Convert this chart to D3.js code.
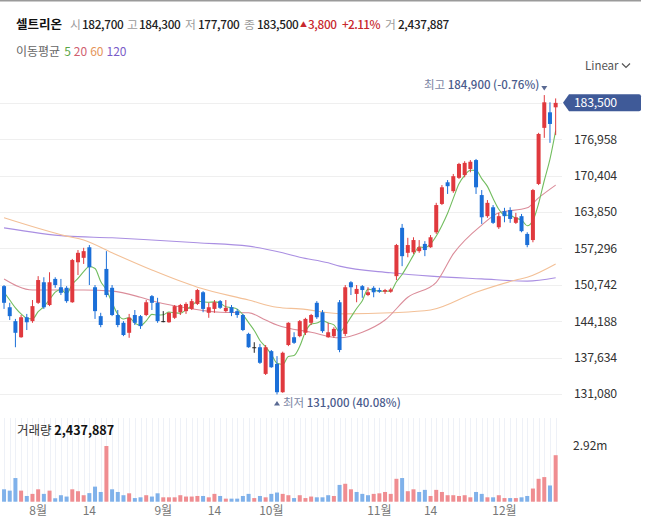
<!DOCTYPE html>
<html>
<head>
<meta charset="utf-8">
<script src="https://cdn.jsdelivr.net/npm/d3@7"></script>
<style>
  body { margin: 0; background: #fff; }
  text { font-family: "Noto Sans CJK KR", "Noto Sans", sans-serif; }
</style>
</head>
<body>
<svg id="chart" width="658" height="528"></svg>
<script>
// daily candles, 2023-07-24 .. 2023-12-14
const opens = [150500,146700,144200,141300,144900,144200,147500,151200,147100,151800,
  150300,150200,147600,154800,155600,157500,150300,145100,153600,150200,
  145300,143900,142100,145300,145100,145300,148700,147500,144200,144000,
  144800,145800,146000,146400,147300,149400,145700,146400,147800,146000,
  146700,146000,145300,141900,139500,139500,134700,138800,136500,131400,
  139900,141300,141500,142100,143900,147500,145800,141300,141500,147600,
  141900,151200,149100,150500,148900,150200,149800,149500,149500,152300,
  161000,156500,156600,156800,158100,157500,160200,165300,169200,167600,
  170000,170500,171600,173200,166900,163100,164700,161100,164000,164200,
  161900,163100,159900,158800,168900,179000,181800,182700];
const highs = [150700,147500,144600,145300,145500,148000,152300,152100,153000,152100,
  151800,150500,155400,157000,157400,157900,150700,145700,156800,150700,
  146200,144200,145500,146200,145300,148000,148900,148400,146000,145800,
  147100,147300,147600,148200,150000,149600,147500,148000,148000,148000,
  147100,146400,145500,142100,140400,140100,139900,139000,137900,138700,
  144000,142200,144400,144800,145500,147800,146200,143900,143100,148000,
  150700,151400,150700,150700,150300,150500,150200,150000,150200,158100,
  161700,159200,159300,158800,158600,159700,165500,168700,169600,170700,
  172700,173000,173200,173400,167800,166000,165100,163700,164600,164700,
  163700,163500,160200,168000,178100,184900,183600,184300];
const lows = [146400,144400,139500,141200,142600,143900,147300,146400,146900,150200,
  148900,147500,147500,152500,154500,150700,144600,143100,148500,145100,
  143100,141500,141200,143500,142800,145100,146200,143900,144000,143900,
  144600,145300,145500,146200,147100,145800,144800,145700,146400,145800,
  145100,144800,142400,139400,138500,136500,134500,135800,131000,131300,
  139700,140100,141300,141700,143500,144600,142100,141200,141200,138600,
  141500,148900,147600,148400,148700,148500,149300,149100,149300,151600,
  154100,155700,156300,156500,155900,157400,159900,165100,167100,167300,
  169800,170100,171000,167100,161700,162800,161700,160800,162000,161900,
  161700,160200,157500,158400,168700,177200,176300,177700];
const closes = [147500,145100,142100,144900,144000,146900,151600,146700,151200,150700,
  149300,147800,155200,156500,156800,153900,146000,143500,148900,145300,
  143500,141700,144800,143900,143300,147600,147500,144200,144200,145700,
  146900,147100,147300,147800,149800,146400,146700,147600,146600,146600,
  145700,145300,142600,139500,139500,136700,139500,135900,131400,138500,
  143900,140300,144200,144600,145300,144900,142400,142200,142800,139000,
  150300,150300,150000,149800,149400,149400,149500,149800,149900,157900,
  155900,157900,158800,157500,157000,159300,165100,168300,168500,170300,
  172500,172700,172900,168300,162900,165500,161900,163100,163100,162600,
  162900,160400,157900,167800,177900,183600,179700,183500];
const volumes = [650000,580000,1240000,580000,300000,410000,650000,410000,580000,180000,
  340000,270000,650000,550000,340000,450000,790000,510000,2920000,650000,
  510000,340000,440000,190000,230000,340000,270000,440000,230000,230000,
  230000,340000,270000,270000,300000,300000,230000,410000,300000,160000,
  160000,160000,300000,410000,190000,300000,230000,410000,480000,410000,
  340000,190000,340000,190000,270000,230000,230000,340000,300000,880000,
  940000,650000,510000,410000,340000,410000,440000,510000,410000,1200000,
  1240000,550000,650000,510000,620000,300000,620000,510000,340000,340000,
  300000,340000,230000,510000,410000,230000,230000,340000,190000,190000,
  190000,230000,300000,690000,1200000,1290000,850000,2437887];

// moving averages (candle index -> value)
const ma5Head = [149400, 148000, 146600, 145500];
const ma20Idx = [0,5,14,19,24,27,32,38,43,46,48,54,59,63,67,71,76,79,84,87,92,94,97];
const ma20Val = [151800,149800,149800,149600,148500,147600,146600,145800,145700,144400,143500,
  142200,141200,142200,144400,148500,151200,156300,161500,163700,164600,166400,168700];
const ma60Idx = [0,11,14,19,26,34,43,48,52,60,68,75,83,90,92,97];
const ma60Val = [162800,159500,158800,156500,153400,150300,148000,146700,146400,145500,
  145700,146200,149400,151600,152100,154500];
const ma120Idx = [0,11,19,26,34,43,49,52,57,59,68,75,84,92,97];
const ma120Val = [161000,159500,159200,158800,158300,157700,156500,155700,154700,154100,
  152900,152300,151800,151400,152000];

const priceTicks = [131080,137634,144188,150742,157296,163850,170404,176958,183512];
const xTickIdx = [6,15,28,37,47,66,75,88];
const xTickLabels = ["8월","14","9월","14","10월","11월","14","12월"];

const UP = "#e0393e", DOWN = "#1b6fd8", VUP = "#ef8d91", VDOWN = "#7fb1ea";

const svg = d3.select("#chart");
const n = closes.length;
const last = n - 1;
const fmt = d3.format(",");

const x = d3.scaleBand().domain(d3.range(n)).range([1.2, 558.5]);
const cx = i => x(i) + x.bandwidth() / 2;
const y = d3.scaleLinear().domain([131080, 183512]).range([394, 102.8]);
const yv = d3.scaleLinear().domain([0, 2920000]).range([501.7, 446]);

// top rule
svg.append("line").attr("x1", 0).attr("x2", 641).attr("y1", 0.75).attr("y2", 0.75)
  .attr("stroke", "#9a9a9a").attr("stroke-width", 1.5);

// header
const head = [
  {t: "셀트리온", x: 16, c: "#111", w: 700, s: 12.5},
  {t: "시", x: 70, c: "#9a9a9a", w: 400},
  {t: fmt(opens[last]), x: 82, c: "#222", w: 500, n: 1},
  {t: "고", x: 127, c: "#9a9a9a", w: 400},
  {t: fmt(highs[last]), x: 139, c: "#222", w: 500, n: 1},
  {t: "저", x: 185, c: "#9a9a9a", w: 400},
  {t: fmt(lows[last]), x: 198, c: "#222", w: 500, n: 1},
  {t: "종", x: 244, c: "#9a9a9a", w: 400},
  {t: fmt(closes[last]), x: 257, c: "#222", w: 500, n: 1},
  {t: "▲", x: 300, c: "#c8282e", w: 400, s: 7},
  {t: fmt(closes[last] - closes[last - 1]), x: 308, c: "#c8282e", w: 500, n: 1},
  {t: "+" + d3.format(".2%")(closes[last] / closes[last - 1] - 1), x: 342, c: "#c8282e", w: 500, n: 2},
  {t: "거", x: 385, c: "#9a9a9a", w: 400},
  {t: fmt(volumes[last]), x: 398, c: "#222", w: 500, n: 1}
];
svg.append("g").selectAll("text").data(head).join("text")
  .attr("x", d => d.x).attr("y", 25).attr("dy", "0.35em")
  .attr("font-size", d => d.s || 11.8).attr("font-weight", d => d.w)
  .attr("letter-spacing", d => d.n === 2 ? -0.6 : d.n ? -0.35 : 0)
  .attr("fill", d => d.c).text(d => d.t);

const legend = [
  {t: "이동평균", c: "#666", dx: 0},
  {t: "5", c: "#5ba646", dx: 4},
  {t: "20", c: "#d0606f", dx: 3},
  {t: "60", c: "#e5955a", dx: 3},
  {t: "120", c: "#7b5cc8", dx: 3}
];
svg.append("text").attr("x", 16).attr("y", 52).attr("dy", "0.35em").attr("font-size", 12)
  .selectAll("tspan").data(legend).join("tspan")
  .attr("dx", d => d.dx).attr("fill", d => d.c).text(d => d.t);

svg.append("text").attr("x", 585).attr("y", 66).attr("dy", "0.35em")
  .attr("font-size", 11.5).attr("fill", "#555").text("Linear");
svg.append("path").attr("d", "M622,63.5 L626,67.5 L630,63.5")
  .attr("fill", "none").attr("stroke", "#555").attr("stroke-width", 1.2);

// price grid
svg.append("g").selectAll("line").data(priceTicks).join("line")
  .attr("x1", 0).attr("x2", 562)
  .attr("y1", d => Math.round(y(d)) + 0.5).attr("y2", d => Math.round(y(d)) + 0.5)
  .attr("stroke", "#efefef");

// price axis
const yAxis = svg.append("g").attr("transform", "translate(574,0)")
  .call(d3.axisRight(y).tickValues(priceTicks).tickSize(0).tickPadding(0).tickFormat(fmt));
yAxis.select(".domain").remove();
yAxis.selectAll("text").attr("font-size", 12.3).attr("fill", "#333").attr("letter-spacing", -0.2)
  .style("font-family", "'Noto Sans CJK KR','Noto Sans',sans-serif");

// volume stripes
svg.append("g").selectAll("line").data(d3.range(n)).join("line")
  .attr("x1", i => Math.round(cx(i)) + 0.5).attr("x2", i => Math.round(cx(i)) + 0.5)
  .attr("y1", 418).attr("y2", 502).attr("stroke", "#eef1f7");

// volume bars
svg.append("g").selectAll("rect").data(d3.range(n)).join("rect")
  .attr("x", i => cx(i) - 2).attr("width", 4)
  .attr("y", i => yv(volumes[i])).attr("height", i => yv(0) - yv(volumes[i]))
  .attr("fill", i => (i === 0 ? closes[i] >= opens[i] : closes[i] >= closes[i - 1]) ? VUP : VDOWN);

// moving averages
const line = d3.line().x(d => cx(d[0])).y(d => y(d[1])).curve(d3.curveMonotoneX);
const ma5 = closes.map((c, i) => [i, i < 4 ? ma5Head[i] : d3.mean(closes.slice(i - 4, i + 1))]);
const maSeries = [
  {pts: d3.zip(ma120Idx, ma120Val), c: "#aa8fe2"},
  {pts: d3.zip(ma60Idx, ma60Val), c: "#f3c097"},
  {pts: d3.zip(ma20Idx, ma20Val), c: "#db8d9a"},
  {pts: ma5, c: "#72bd5f"}
];
svg.append("g").selectAll("path").data(maSeries).join("path")
  .attr("d", d => line(d.pts)).attr("fill", "none")
  .attr("stroke", d => d.c).attr("stroke-width", 1.1);

// candles
const col = i => closes[i] > opens[i] ? UP : closes[i] < opens[i] ? DOWN : "#222";
const cg = svg.append("g").selectAll("g").data(d3.range(n)).join("g");
cg.append("line")
  .attr("x1", i => cx(i)).attr("x2", i => cx(i))
  .attr("y1", i => y(highs[i])).attr("y2", i => y(lows[i]))
  .attr("stroke", col).attr("stroke-width", 1);
cg.append("rect")
  .attr("x", i => cx(i) - 2).attr("width", 4)
  .attr("y", i => y(Math.max(opens[i], closes[i])))
  .attr("height", i => Math.max(1, Math.abs(y(opens[i]) - y(closes[i]))))
  .attr("fill", col);

// high / low markers
const hiIdx = d3.maxIndex(highs), loIdx = d3.minIndex(lows);
const hx = cx(hiIdx), hy = y(highs[hiIdx]) - 6;
svg.append("path").attr("d", `M${hx - 3},${hy - 3} L${hx + 3},${hy - 3} L${hx},${hy + 1.5} Z`).attr("fill", "#5a6a93");
const hiT = svg.append("text").attr("x", hx - 5).attr("y", hy - 1).attr("dy", "0.1em")
  .attr("text-anchor", "end").attr("font-size", 11.5);
hiT.append("tspan").attr("fill", "#7a86a3").text("최고 ");
hiT.append("tspan").attr("fill", "#4a5b8c").attr("font-weight", 500)
  .text(fmt(highs[hiIdx]) + " (" + d3.format(".2%")(closes[last] / highs[hiIdx] - 1).replace("−", "-") + ")");

const lx = cx(loIdx), ly = y(lows[loIdx]) + 9;
svg.append("path").attr("d", `M${lx - 3},${ly + 2} L${lx + 3},${ly + 2} L${lx},${ly - 2.5} Z`).attr("fill", "#5a6a93");
const loT = svg.append("text").attr("x", lx + 6).attr("y", ly).attr("dy", "0.35em").attr("font-size", 11.5);
loT.append("tspan").attr("fill", "#7a86a3").text("최저 ");
loT.append("tspan").attr("fill", "#4a5b8c").attr("font-weight", 500)
  .text(fmt(lows[loIdx]) + " (" + d3.format(".2%")(closes[last] / lows[loIdx] - 1) + ")");

// last price tag
const ty = y(closes[last]);
svg.append("path")
  .attr("d", `M563,${ty} L569,${ty - 8.5} L639,${ty - 8.5} Q641,${ty - 8.5} 641,${ty - 6.5} L641,${ty + 6.5} Q641,${ty + 8.5} 639,${ty + 8.5} L569,${ty + 8.5} Z`)
  .attr("fill", "#3f5a98");
svg.append("text").attr("x", 574).attr("y", ty).attr("dy", "0.35em")
  .attr("font-size", 12.3).attr("letter-spacing", -0.2).attr("fill", "#fff").text(fmt(closes[last]));

// volume labels
const vT = svg.append("text").attr("x", 17).attr("y", 431).attr("dy", "0.35em").attr("font-size", 12.5);
vT.append("tspan").attr("fill", "#333").text("거래량 ");
vT.append("tspan").attr("fill", "#111").attr("font-weight", 700).text(fmt(volumes[last]));
svg.append("text").attr("x", 573).attr("y", yv(d3.max(volumes))).attr("dy", "0.35em")
  .attr("font-size", 12).attr("fill", "#333").text(d3.format(".3~s")(d3.max(volumes)).replace("M", "m"));

// date axis
const xAxis = svg.append("g")
  .call(d3.axisBottom(x).tickValues(xTickIdx).tickSize(0).tickFormat((d, k) => xTickLabels[k]));
xAxis.select(".domain").remove();
xAxis.selectAll("text").attr("y", 511).attr("dy", "0.35em").attr("font-size", 12).attr("fill", "#777")
  .style("font-family", "'Noto Sans CJK KR','Noto Sans',sans-serif");
</script>
</body>
</html>
